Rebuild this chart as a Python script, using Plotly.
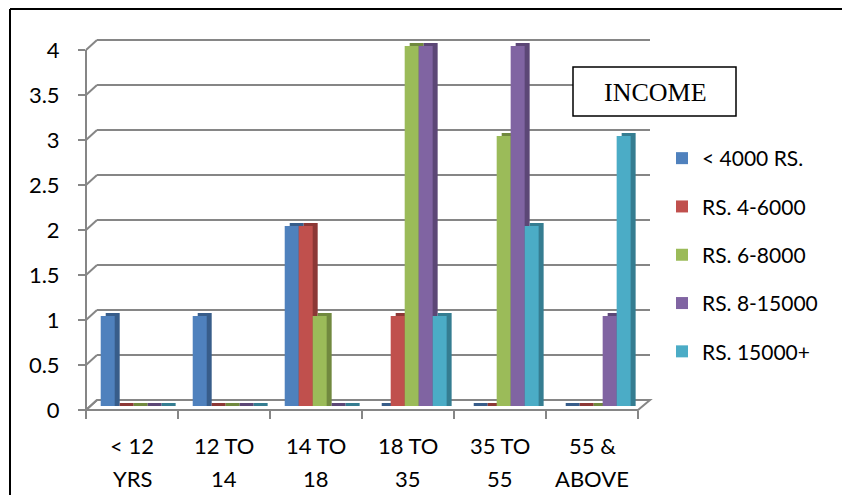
import plotly.graph_objects as go

CATEGORIES = ["< 12 YRS", "12 TO 14", "14 TO 18", "18 TO 35", "35 TO 55", "55 & ABOVE"]
LABEL_LINE1 = ["< 12", "12 TO", "14 TO", "18 TO", "35 TO", "55 &"]
LABEL_LINE2 = ["YRS", "14", "18", "35", "55", "ABOVE"]

SERIES_NAMES = ["< 4000 RS.", "RS. 4-6000", "RS. 6-8000", "RS. 8-15000", "RS. 15000+"]
S_LT4000 = [1, 1, 2, 0, 0, 0]
S_4_6000 = [0, 0, 2, 1, 0, 0]
S_6_8000 = [0, 0, 1, 4, 3, 0]
S_8_15000 = [0, 0, 0, 4, 4, 1]
S_15000P = [0, 0, 0, 1, 2, 3]
SERIES = [S_LT4000, S_4_6000, S_6_8000, S_8_15000, S_15000P]

Y_TICKS = [0, 0.5, 1, 1.5, 2, 2.5, 3, 3.5, 4]
Y_TICK_TEXT = ["0", "0.5", "1", "1.5", "2", "2.5", "3", "3.5", "4"]

COLORS = ["#4F81BD", "#C0504D", "#9BBB59", "#8064A2", "#4BACC6"]
DARK = ["#385D8A", "#8C3836", "#71893F", "#5C4776", "#357D91"]

W, H = 842, 495
# plot area in pixels
PX_L, PX_R = 86, 638
PX_B, PX_T = 410, 38
UNIT = 90.0          # pixels per y unit
FRONT_SHIFT = 4.0    # px between front tick and bar front
BACK_SHIFT = 10.0    # px between front tick and back wall
DEPTH_X = 11.0
GRID_RIGHT = 650

Y0 = -FRONT_SHIFT / UNIT
Y1 = (PX_B - FRONT_SHIFT - PX_T) / UNIT


def px(x):
    return (x - PX_L) / (PX_R - PX_L)


def py(y):
    return (PX_B - y) / (PX_B - PX_T)


GRID = "#868686"
shapes = []
# floor
shapes.append(dict(type="path", xref="paper", yref="paper", layer="below",
                   path=f"M{px(PX_L)},{py(PX_B)} L{px(PX_L+DEPTH_X)},{py(PX_B-BACK_SHIFT)} "
                        f"L{px(GRID_RIGHT)},{py(PX_B-BACK_SHIFT)} L{px(PX_R)},{py(PX_B)} Z",
                   fillcolor="white", line=dict(color=GRID, width=2)))
for v in Y_TICKS:
    tick_y = PX_B - UNIT * v
    back_y = tick_y - BACK_SHIFT
    shapes.append(dict(type="line", xref="paper", yref="paper", layer="below",
                       x0=px(PX_L), y0=py(tick_y), x1=px(PX_L + DEPTH_X), y1=py(back_y),
                       line=dict(color=GRID, width=2)))
    shapes.append(dict(type="line", xref="paper", yref="paper", layer="below",
                       x0=px(PX_L + DEPTH_X), y0=py(back_y), x1=px(GRID_RIGHT), y1=py(back_y),
                       line=dict(color=GRID, width=2)))
# front vertical axis
shapes.append(dict(type="line", xref="paper", yref="paper", layer="below",
                   x0=px(PX_L), y0=py(PX_B), x1=px(PX_L), y1=py(PX_B - UNIT * max(Y_TICKS)),
                   line=dict(color=GRID, width=2)))
# outer border (top and left)
shapes.append(dict(type="line", xref="paper", yref="paper",
                   x0=px(10), y0=py(9), x1=px(W + 5), y1=py(9), line=dict(color="black", width=2)))
shapes.append(dict(type="line", xref="paper", yref="paper",
                   x0=px(10), y0=py(9), x1=px(10), y1=py(H + 5), line=dict(color="black", width=2)))
# INCOME box
shapes.append(dict(type="rect", xref="paper", yref="paper",
                   x0=px(573), y0=py(67), x1=px(736), y1=py(116),
                   line=dict(color="black", width=1.5), fillcolor="white"))

fig = go.Figure()
BAR_W = 0.152
DX = 5 / 92.0
DY = 3 / UNIT
for i, (name, vals) in enumerate(zip(SERIES_NAMES, SERIES)):
    off = -0.34 + i * BAR_W
    fig.add_trace(go.Bar(x=CATEGORIES, y=[v + DY for v in vals], base=0,
                         offset=off + DX, width=BAR_W,
                         marker=dict(color=DARK[i], line=dict(width=0)),
                         showlegend=False, hoverinfo="skip"))
    fig.add_trace(go.Bar(x=CATEGORIES, y=vals, name=name, offset=off, width=BAR_W,
                         legendgroup=f"g{i}",
                         marker=dict(color=COLORS[i], line=dict(width=0))))

annotations = []
for c, l1, l2 in zip(CATEGORIES, LABEL_LINE1, LABEL_LINE2):
    annotations.append(dict(x=c, xref="x", y=py(446), yref="paper", text=l1, showarrow=False,
                            font=dict(size=22, color="black"), xanchor="center", yanchor="middle"))
    annotations.append(dict(x=c, xref="x", y=py(478), yref="paper", text=l2, showarrow=False,
                            font=dict(size=22, color="black"), xanchor="center", yanchor="middle"))
annotations.append(dict(x=px(655), y=py(92), xref="paper", yref="paper", text="INCOME",
                        showarrow=False, font=dict(family="Liberation Serif", size=26, color="black"),
                        xanchor="center", yanchor="middle"))

fig.update_layout(
    width=W, height=H,
    margin=dict(l=PX_L, r=W - PX_R, t=PX_T, b=H - PX_B, pad=0),
    paper_bgcolor="white", plot_bgcolor="rgba(0,0,0,0)",
    barmode="overlay",
    font=dict(family="Lato", size=22, color="black"),
    shapes=shapes, annotations=annotations,
    legend=dict(x=px(662), y=py(138), xanchor="left", yanchor="top",
                font=dict(size=21), tracegroupgap=18, bgcolor="rgba(0,0,0,0)"),
    xaxis=dict(type="category", categoryorder="array", categoryarray=CATEGORIES,
               range=[-0.5, 5.5], tickson="boundaries", ticks="outside", ticklen=8,
               tickcolor=GRID, tickwidth=2, showticklabels=False, showgrid=False,
               showline=False, zeroline=False, fixedrange=True),
    yaxis=dict(range=[Y0, Y1], tickvals=[v - FRONT_SHIFT / UNIT for v in Y_TICKS],
               ticktext=Y_TICK_TEXT, ticks="outside", ticklen=7, tickcolor=GRID, tickwidth=2,
               ticklabelstandoff=14, showgrid=False, zeroline=False, showline=False,
               tickfont=dict(size=22), fixedrange=True),
)

fig.write_html("out.html", config={"displayModeBar": False},
               post_script="document.body.style.margin='0px';document.body.style.overflow='hidden';")
